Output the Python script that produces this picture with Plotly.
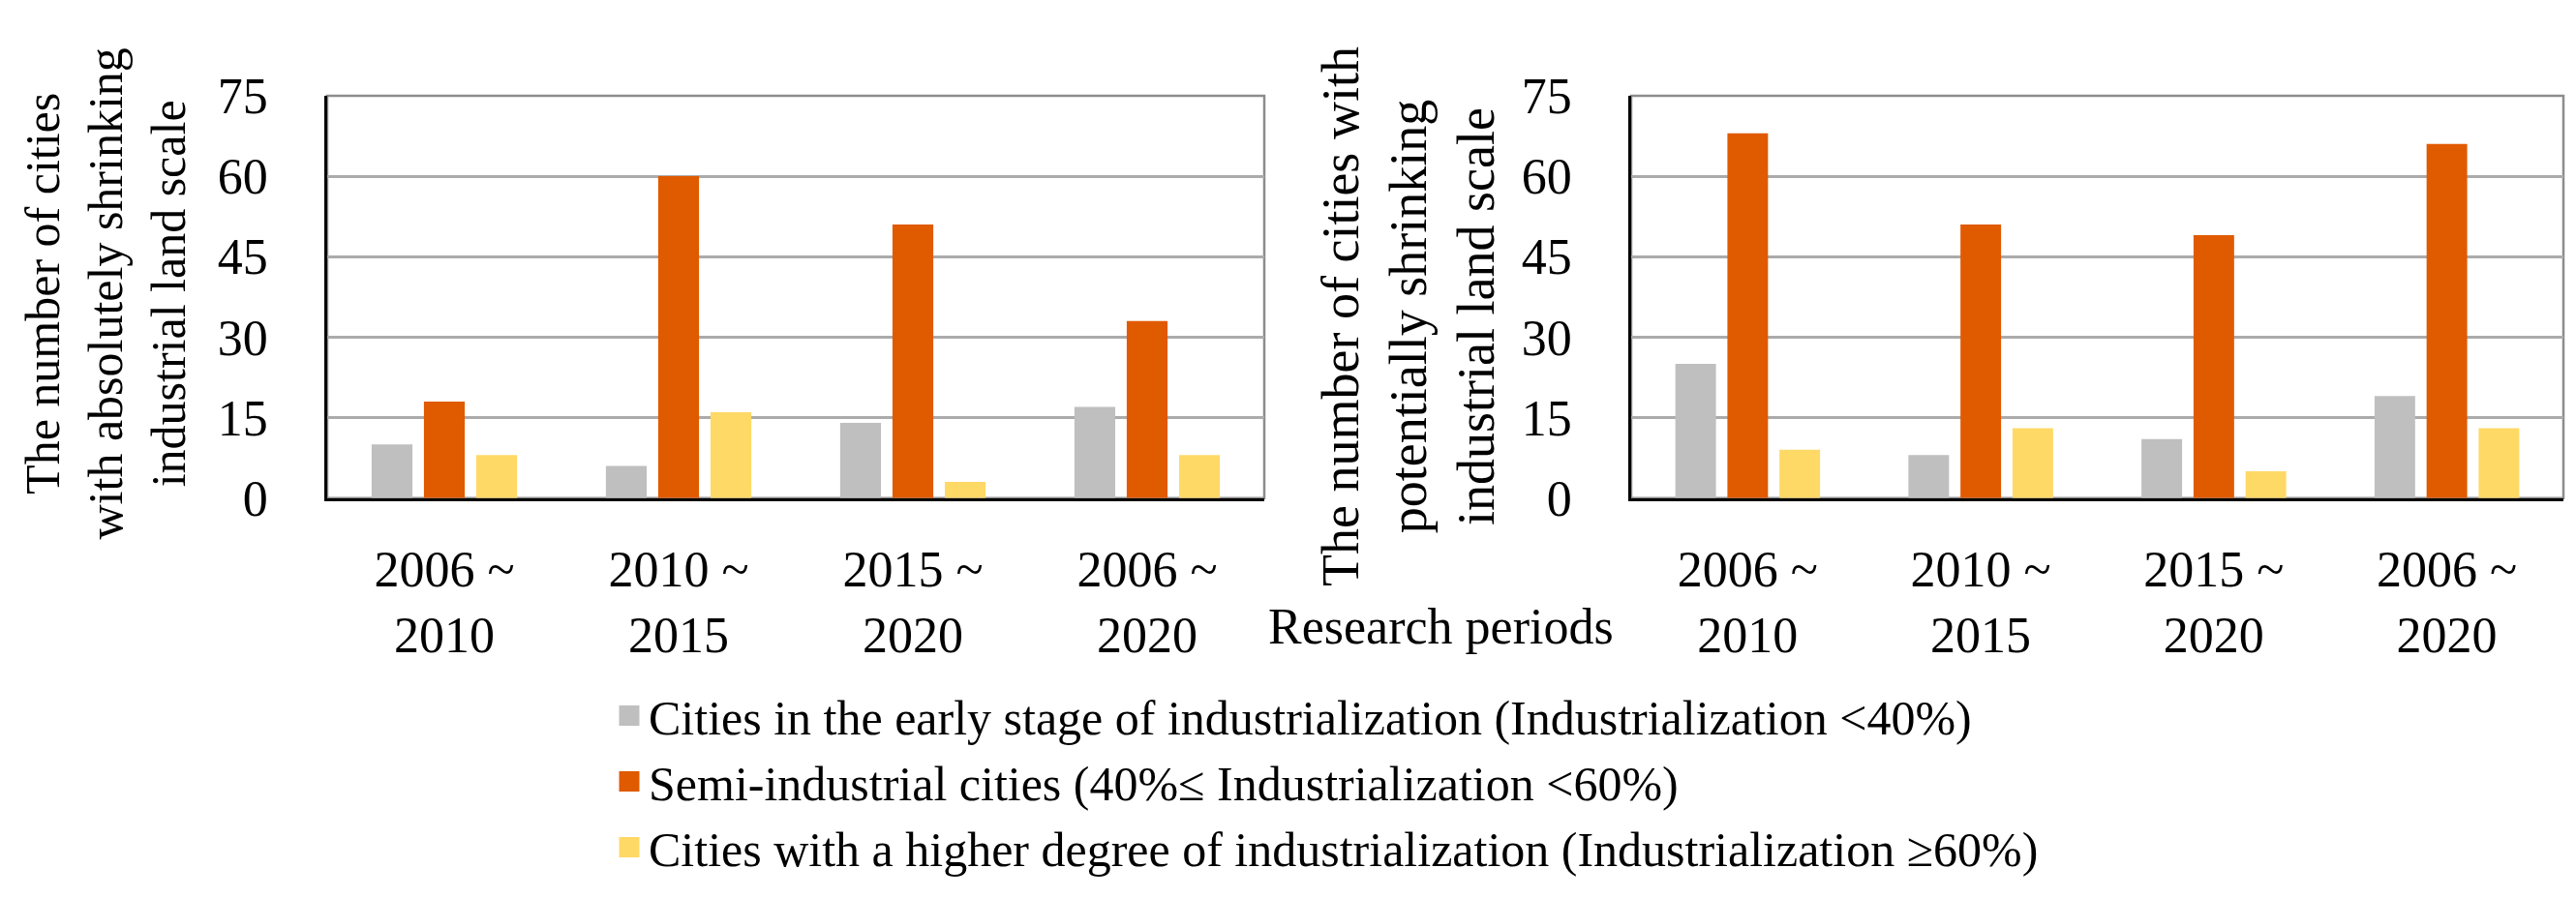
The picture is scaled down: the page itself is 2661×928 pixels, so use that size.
import plotly.graph_objects as go

periods = ["2006 ~<br>2010", "2010 ~<br>2015", "2015 ~<br>2020", "2006 ~<br>2020"]
series_names = [
    "Cities in the early stage of industrialization (Industrialization <40%)",
    "Semi-industrial cities (40%\u2264 Industrialization <60%)",
    "Cities with a higher degree of industrialization (Industrialization \u226560%)",
]
absolute_early = [10, 6, 14, 17]
absolute_semi = [18, 60, 51, 33]
absolute_high = [8, 16, 3, 8]
potential_early = [25, 8, 11, 19]
potential_semi = [68, 51, 49, 66]
potential_high = [9, 13, 5, 13]
y_ticks = [0, 15, 30, 45, 60, 75]
colors = ["#BFBFBF", "#E05A00", "#FFD966"]
left_title = "The number of cities<br>with absolutely shrinking<br>industrial land scale"
right_title = "The number of cities with<br>potentially shrinking<br>industrial land scale"
x_title = "Research periods"

W, H = 2661, 928
FONT = "Liberation Serif, Times New Roman, serif"

fig = go.Figure()
left_vals = [absolute_early, absolute_semi, absolute_high]
right_vals = [potential_early, potential_semi, potential_high]
for i in range(3):
    fig.add_trace(go.Bar(x=periods, y=left_vals[i], name=series_names[i],
                         marker=dict(color=colors[i], line=dict(width=0)),
                         xaxis="x", yaxis="y", showlegend=False, legendgroup=str(i)))
for i in range(3):
    fig.add_trace(go.Bar(x=periods, y=right_vals[i], name=series_names[i],
                         marker=dict(color=colors[i], line=dict(width=0)),
                         xaxis="x2", yaxis="y2", showlegend=False, legendgroup=str(i)))
# legend entries (larger square keys, like the original)
for i in range(3):
    fig.add_trace(go.Scatter(x=[None], y=[None], mode="markers", name=series_names[i],
                             marker=dict(symbol="square", size=16, color=colors[i],
                                         line=dict(color=colors[i], width=5)),
                             xaxis="x", yaxis="y", showlegend=True, legendgroup=str(i),
                             hoverinfo="skip"))

def px_x(p):
    return p / W

def px_y(p):
    return (H - p) / H

xd1 = [px_x(330), px_x(1298)]
xd2 = [px_x(1677), px_x(2640)]
yd = [px_y(510), px_y(67)]

axis_font = dict(family=FONT, size=52, color="black")
xcommon = dict(type="category", categoryorder="array", categoryarray=periods,
               showgrid=False, showline=True, linecolor="black", linewidth=3,
               ticks="", tickfont=axis_font, ticklabelstandoff=26, zeroline=False)
ycommon = dict(range=[0, 75], tickvals=y_ticks, showgrid=True, gridcolor="#ABABAB", gridwidth=2.5,
               showline=True, linecolor="black", linewidth=2.5, ticks="", tickfont=axis_font,
               ticklabelstandoff=48, zeroline=False)

fig.update_layout(
    width=W, height=H,
    margin=dict(l=0, r=0, t=0, b=0),
    paper_bgcolor="white", plot_bgcolor="white",
    barmode="group", bargap=0.33, bargroupgap=0.22,
    font=dict(family=FONT, size=50, color="black"),
    xaxis=dict(domain=xd1, anchor="y", **xcommon),
    yaxis=dict(domain=yd, anchor="x", **ycommon),
    xaxis2=dict(domain=xd2, anchor="y2", **xcommon),
    yaxis2=dict(domain=yd, anchor="x2", **ycommon),
    legend=dict(x=px_x(622), y=px_y(708), xanchor="left", yanchor="top",
                font=dict(family=FONT, size=50, color="black"),
                bgcolor="rgba(0,0,0,0)", tracegroupgap=0, itemwidth=30,
                itemsizing="trace"),
    showlegend=True,
)

# gray frame (top/right) for each plot
for xr, yr in (("x domain", "y domain"), ("x2 domain", "y2 domain")):
    fig.add_shape(type="rect", xref=xr, yref=yr, x0=0, x1=1, y0=0, y1=1,
                  line=dict(color="#8C8C8C", width=2.5), layer="below")

fig.add_annotation(text=left_title, x=px_x(101), y=px_y(285), xref="paper", yref="paper",
                   textangle=-90, showarrow=False, xanchor="center", yanchor="middle",
                   font=dict(family=FONT, size=50, color="black"), align="center")
fig.add_annotation(text=right_title, x=px_x(1447), y=px_y(310), xref="paper", yref="paper",
                   textangle=-90, showarrow=False, xanchor="center", yanchor="middle",
                   font=dict(family=FONT, size=54, color="black"), align="center")
fig.add_annotation(text=x_title, x=px_x(1480), y=px_y(652), xref="paper", yref="paper",
                   showarrow=False, xanchor="center", yanchor="middle",
                   font=dict(family=FONT, size=52, color="black"))

fig.write_html("out.html")
